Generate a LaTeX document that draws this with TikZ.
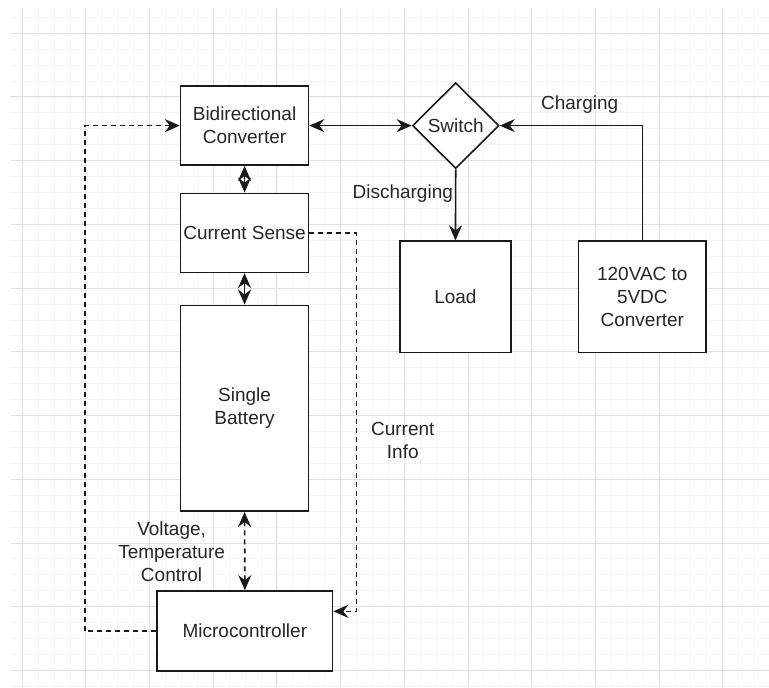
\documentclass[tikz,border=0pt]{standalone}
\usepackage{fontspec}
\setmainfont{Liberation Sans}
\usetikzlibrary{arrows.meta,shapes.geometric}

\tikzset{
    blk/.style={draw=black!90, fill=white, line width=1.6pt, inner sep=2pt, align=center,
        font=\fontsize{19}{23}\selectfont, text=black!85},
    lbl/.style={align=center, font=\fontsize{19}{23}\selectfont, text=black!85},
    flow/.style={black!90, line width=1.6pt, arrows={-Stealth[length=15pt,width=13pt,inset=5pt]}},
    flowboth/.style={flow, arrows={Stealth[length=15pt,width=13pt,inset=5pt]-Stealth[length=15pt,width=13pt,inset=5pt]}},
    ctrl/.style={flow, dash pattern=on 5pt off 4pt},
    ctrlboth/.style={flowboth, dash pattern=on 5pt off 4pt}
}

\begin{document}
\begin{tikzpicture}[x=1pt, y=-1pt]
            \fill[white] (0,0) rectangle (769,687);
            % grid
            \foreach \i in {0,...,46} {
                \pgfmathsetmacro{\gx}{22.2+15.93*\i}
                \draw[black!4, line width=0.8pt] (\gx,8) -- (\gx,687);
            }
            \foreach \j in {-1,...,41} {
                \pgfmathsetmacro{\gy}{33.2+15.94*\j}
                \draw[black!4, line width=0.8pt] (10,\gy) -- (769,\gy);
            }
            \foreach \i in {0,...,11} {
                \pgfmathsetmacro{\gx}{22.2+63.72*\i}
                \draw[black!12, line width=0.9pt] (\gx,8) -- (\gx,687);
            }
            \foreach \j in {0,...,10} {
                \pgfmathsetmacro{\gy}{33.2+63.76*\j}
                \draw[black!12, line width=0.9pt] (10,\gy) -- (769,\gy);
            }

            \node[blk, minimum width=128, minimum height=79] (bidir) at (244.7,125.7) {Bidirectional\\Converter};
            \node[blk, minimum width=128, minimum height=79] (sense) at (244.7,233) {Current Sense};
            \node[blk, minimum width=128, minimum height=206] (battery) at (244.7,408.5) {Single\\Battery};
            \node[blk, minimum width=175.4, minimum height=80] (micro) at (245,631.3) {Microcontroller};
            \node[blk, shape=diamond, inner sep=0pt, minimum width=86.6, minimum height=86] (switch) at (456,125.7) {Switch};
            \node[blk, minimum width=111.3, minimum height=111.4] (load) at (455.7,297) {Load};
            \node[blk, minimum width=128, minimum height=111.4] (conv) at (642.7,297) {120VAC to\\5VDC\\Converter};

            \draw[flowboth] (bidir) -- (sense);
            \draw[flowboth] (sense) -- (battery);
            \draw[flowboth] (bidir.east) -- (switch.west);
            \draw[flow] (conv.north) |- (switch.east);
            \draw[flow] (switch.south) -- (load.north);
            \draw[ctrlboth] (battery.south) -- (micro.north);
            \draw[ctrl] (sense.east) -- ++(47.3,0) |- ([yshift=19.6pt]micro.east);
            \draw[ctrl] (micro.west) -- ++(-71.6,0) |- (bidir.west);

            \node[lbl] (charging) at (580,105) {Charging};
            \node[lbl] (discharging) at (403,194) {Discharging};
            \node[lbl] (info) at (403,441) {Current\\Info};
            \node[lbl] (volt) at (171.7,552) {Voltage,\\Temperature\\Control};
\end{tikzpicture}
\end{document}
